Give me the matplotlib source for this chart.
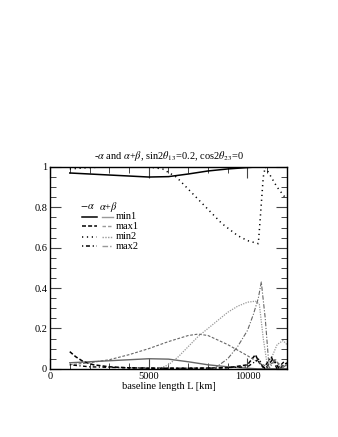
import matplotlib
matplotlib.use('Agg')
import matplotlib.pyplot as plt
from matplotlib.ticker import MultipleLocator

plt.rcParams['font.family'] = ['Liberation Serif', 'DejaVu Serif']
plt.rcParams['mathtext.fontset'] = 'stix'

# values (L in km)
L_min1 = [1000, 2000, 3000, 4000, 5000, 6000, 7000, 8000, 9000, 10000, 10500, 11000, 12000]
min1_neg_alpha = [0.97, 0.965, 0.96, 0.955, 0.95, 0.952, 0.965, 0.98, 0.99, 0.997, 1.0, 1.0, 1.0]
min1_alpha_beta = [0.03, 0.035, 0.04, 0.045, 0.05, 0.048, 0.035, 0.02, 0.01, 0.003, 0.0, 0.0, 0.0]

L_max1_neg = [1000, 1300, 1700, 2200, 3000, 4000, 5000, 7000, 9000, 10000, 10400, 10600, 10900, 11300, 11600, 12000]
max1_neg_alpha = [0.085, 0.06, 0.035, 0.02, 0.01, 0.005, 0.003, 0.003, 0.005, 0.02, 0.07, 0.03, 0.0, 0.05, 0.0, 0.03]

L_max1_ab = [1000, 2000, 3000, 4000, 5000, 6000, 7000, 7500, 8000, 9000, 10000, 10500, 11000, 11400, 11800, 12000]
max1_alpha_beta = [0.02, 0.03, 0.045, 0.07, 0.10, 0.135, 0.165, 0.172, 0.165, 0.12, 0.065, 0.035, 0.01, 0.04, 0.01, 0.02]

L_min2_neg = [1000, 2000, 3000, 4000, 5000, 5700, 6400, 7200, 7900, 8700, 9500, 10000, 10550, 10650, 10800, 10900, 11200, 11500, 11900]
min2_neg_alpha = [0.99, 0.997, 1.0, 1.0, 1.0, 0.99, 0.95, 0.87, 0.80, 0.72, 0.66, 0.635, 0.62, 0.75, 0.95, 1.0, 0.95, 0.9, 0.85]

L_min2_ab = [5500, 6000, 6500, 7000, 7500, 8000, 8500, 9000, 9500, 10000, 10400, 10600, 10800, 11000, 11200, 11500, 11800, 12000]
min2_alpha_beta = [0.0, 0.02, 0.06, 0.11, 0.16, 0.20, 0.24, 0.28, 0.31, 0.33, 0.335, 0.32, 0.15, 0.02, 0.05, 0.12, 0.14, 0.12]

L_max2_neg = [1000, 2000, 4000, 6000, 8000, 10000, 10600, 10800, 11200, 11500, 11900]
max2_neg_alpha = [0.02, 0.01, 0.005, 0.003, 0.003, 0.01, 0.05, 0.0, 0.06, 0.0, 0.04]

L_max2_ab = [8300, 9000, 9500, 10000, 10300, 10550, 10700, 10900, 11100, 11400, 11700, 12000]
max2_alpha_beta = [0.0, 0.05, 0.11, 0.19, 0.27, 0.35, 0.43, 0.25, 0.0, 0.05, 0.0, 0.02]

gray = '#999999'
dgray = '#666666'
styles = {
    'min1': '-',
    'max1': (0, (2.6, 1.4)),
    'min2': (0, (0.8, 2.4)),
    'max2': (0, (0.8, 1.8, 2.6, 1.8)),
}
thin = {
    'min1': '-',
    'max1': (0, (2.5, 1.5)),
    'min2': (0, (1, 1)),
    'max2': (0, (4, 1.5, 1, 1.5)),
}

fig = plt.figure(figsize=(3.38, 4.37), dpi=100)
ax = fig.add_axes([0.148, 0.156, 0.701, 0.462])

ax.plot(L_min1, min1_neg_alpha, color='black', lw=1.1, ls=styles['min1'])
ax.plot(L_min1, min1_alpha_beta, color=dgray, lw=1.0, ls=thin['min1'])
ax.plot(L_max1_neg, max1_neg_alpha, color='black', lw=1.1, ls=styles['max1'])
ax.plot(L_max1_ab, max1_alpha_beta, color=dgray, lw=0.8, ls=thin['max1'])
ax.plot(L_min2_neg, min2_neg_alpha, color='black', lw=1.1, ls=styles['min2'])
ax.plot(L_min2_ab, min2_alpha_beta, color=gray, lw=0.9, ls=thin['min2'])
ax.plot(L_max2_neg, max2_neg_alpha, color='black', lw=1.0, ls=styles['max2'])
ax.plot(L_max2_ab, max2_alpha_beta, color=dgray, lw=0.8, ls=thin['max2'])

ax.set_xlim(0, 12000)
ax.set_ylim(0, 1)
ax.xaxis.set_major_locator(MultipleLocator(5000))
ax.xaxis.set_minor_locator(MultipleLocator(1000))
ax.yaxis.set_minor_locator(MultipleLocator(0.05))
ax.set_yticks([0, 0.2, 0.4, 0.6, 0.8, 1.0])
ax.set_yticklabels(['0', '0.2', '0.4', '0.6', '0.8', '1'])
ax.tick_params(which='both', direction='in', top=True, right=True, labelsize=7.5, pad=2)
ax.tick_params(which='major', length=8, width=0.8, color='#444444')
ax.tick_params(which='minor', length=4, width=0.7, color='#444444')
for s in ax.spines.values():
    s.set_linewidth(1.0)

ax.set_xlabel('baseline length L [km]', fontsize=7.5, labelpad=1)
ax.set_title(r'-$\alpha$ and $\alpha$+$\beta$, sin2$\theta_{13}$=0.2, cos2$\theta_{23}$=0',
             fontsize=7.5, pad=6)

# hand-drawn legend, two columns of line samples
tr = ax.transAxes
ax.text(0.156, 0.803, r'$-\alpha$', transform=tr, fontsize=7.5, ha='center', va='center')
ax.text(0.247, 0.803, r'$\alpha$+$\beta$', transform=tr, fontsize=7.5, ha='center', va='center')
rows = ['min1', 'max1', 'min2', 'max2']
row_y = [0.754, 0.705, 0.655, 0.606]
for name, yy in zip(rows, row_y):
    ax.plot([0.135, 0.198], [yy, yy], transform=tr, color='black', lw=1.1, ls=styles[name])
    ax.plot([0.22, 0.266], [yy, yy], transform=tr, color=gray, lw=1.0, ls=thin[name])
    ax.text(0.276, yy, name, transform=tr, fontsize=7.5, va='center')

fig.savefig('out.png', dpi=100)
